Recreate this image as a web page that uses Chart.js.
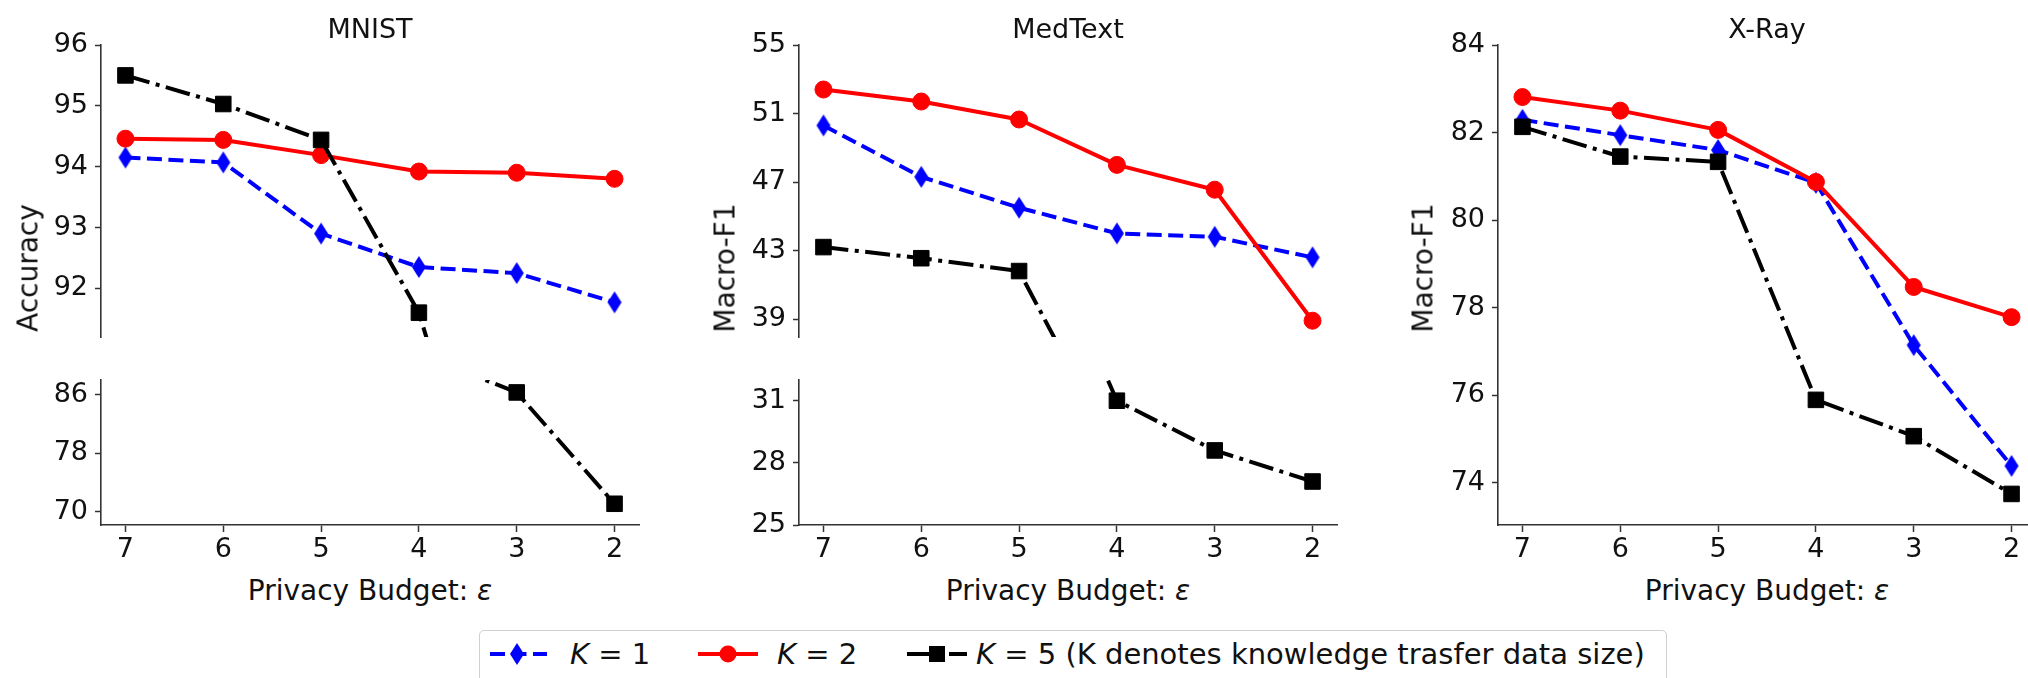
<!DOCTYPE html>
<html>
<head>
<meta charset="utf-8">
<script src="https://cdn.jsdelivr.net/npm/chart.js@4.4.1/dist/chart.umd.min.js"></script>
<style>
  html, body { margin: 0; padding: 0; background: #fff; }
  #fig { position: relative; width: 2028px; height: 678px; overflow: hidden;
         font-family: "DejaVu Sans", sans-serif; color: #111; }
  #fig canvas { position: absolute; }
  .txt { position: absolute; white-space: nowrap; transform: translate(-50%, -50%); }
  .title { font-size: 27px; }
  .xlab { font-size: 28px; }
  .ylab { font-size: 28px; transform: translate(-50%, -50%) rotate(-90deg); }
  #legend { position: absolute; left: 479px; top: 630px; width: 1188px; height: 70px;
            border: 1.5px solid #d0d0d0; border-radius: 5px; box-sizing: border-box; }
  .lg { position: absolute; top: 23px; font-size: 29px; white-space: nowrap; transform: translateY(-50%); }
  .lg svg { position: absolute; top: -13px; }
</style>
</head>
<body>
<div id="fig"></div>
<script>
// privacy budget epsilon (x axis)
const budgets = [7, 6, 5, 4, 3, 2];

// MNIST accuracy
const mnistK1 = [94.15, 94.07, 92.9, 92.35, 92.25, 91.77];
const mnistK2 = [94.46, 94.44, 94.19, 93.92, 93.9, 93.8];
const mnistK5 = [95.5, 95.03, 94.44, 91.6, 86.3, 71.1];

// MedText macro-F1
const medK1 = [50.3, 47.3, 45.5, 44.0, 43.8, 42.6];
const medK2 = [52.4, 51.7, 50.65, 48.0, 46.55, 38.9];
const medK5 = [43.2, 42.55, 41.8, 31.0, 28.6, 27.1];

// X-Ray macro-F1
const xrayK1 = [82.29, 81.94, 81.6, 80.85, 77.14, 74.38];
const xrayK2 = [82.81, 82.5, 82.06, 80.87, 78.47, 77.78];
const xrayK5 = [82.13, 81.45, 81.33, 75.89, 75.06, 73.74];

// y tick labels
const mnistTopTicks = [92, 93, 94, 95, 96];
const mnistLowTicks = [70, 78, 86];
const medTopTicks = [39, 43, 47, 51, 55];
const medLowTicks = [25, 28, 31];
const xrayTicks = [74, 76, 78, 80, 82, 84];

const seriesNames = ["K = 1", "K = 2", "K = 5 (K denotes knowledge trasfer data size)"];

const FONT = "DejaVu Sans";
const fig = document.getElementById("fig");
const YW = 80, PADT = 30, XH = 48, PADR = 12;

function thinDiamond(color, w, h) {
    const c = document.createElement("canvas");
    c.width = w + 2; c.height = h + 2;
    const g = c.getContext("2d");
    g.fillStyle = color;
    g.beginPath();
    g.moveTo(c.width / 2, 1);
    g.lineTo(w + 1, c.height / 2);
    g.lineTo(c.width / 2, h + 1);
    g.lineTo(1, c.height / 2);
    g.closePath();
    g.fill();
    return c;
}
const diamond = thinDiamond("#0000ff", 14, 22);

function series(vals, kind) {
    const base = {
        data: budgets.map((b, i) => ({ x: b, y: vals[i] })),
        fill: false, tension: 0, clip: 0, borderWidth: 4,
        borderJoinStyle: "round", pointBorderWidth: 1
    };
    if (kind === 1) return Object.assign(base, {
        borderColor: "#0000ff", backgroundColor: "#0000ff", borderDash: [15, 6.5],
        pointStyle: diamond, pointRadius: 11, order: 3
    });
    if (kind === 2) return Object.assign(base, {
        borderColor: "#ff0000", backgroundColor: "#ff0000",
        pointStyle: "circle", pointRadius: 8.5, order: 2
    });
    return Object.assign(base, {
        borderColor: "#000000", backgroundColor: "#000000", borderDash: [25, 6.5, 4, 6.5],
        pointStyle: "rect", pointRadius: 11, order: 1
    });
}

function makePlot(p) {
    const c = document.createElement("canvas");
    const w = YW + (p.right - p.left) + PADR;
    const h = PADT + (p.bottom - p.top) + (p.showX ? XH : PADT);
    c.width = w; c.height = h;
    c.style.left = (p.left - YW) + "px";
    c.style.top = (p.top - PADT) + "px";
    c.style.width = w + "px"; c.style.height = h + "px";
    fig.appendChild(c);

    const tickFont = { family: FONT, size: 27 };
    new Chart(c, {
        type: "line",
        data: { datasets: [series(p.vals[0], 1), series(p.vals[1], 2), series(p.vals[2], 5)] },
        options: {
            responsive: false,
            animation: false,
            devicePixelRatio: 1,
            layout: { padding: { top: PADT, right: PADR, bottom: p.showX ? 0 : PADT, left: 0 } },
            plugins: { legend: { display: false }, tooltip: { enabled: false } },
            scales: {
                x: {
                    type: "linear", min: 1.75, max: 7.25, reverse: true, display: p.showX,
                    afterBuildTicks: s => { s.ticks = budgets.map(v => ({ value: v })); },
                    afterFit: s => { if (p.showX) s.height = XH; },
                    grid: { drawOnChartArea: false, tickLength: 7, tickColor: "#333", tickWidth: 1.5 },
                    border: { color: "#333", width: 1.6 },
                    ticks: { font: tickFont, color: "#111", padding: 2, maxRotation: 0 }
                },
                y: {
                    type: "linear", min: p.ymin, max: p.ymax,
                    afterBuildTicks: s => { s.ticks = p.ticks.map(v => ({ value: v })); },
                    afterFit: s => { s.width = YW; },
                    grid: { drawOnChartArea: false, tickLength: 6, tickColor: "#333", tickWidth: 1.5 },
                    border: { color: "#333", width: 1.6 },
                    ticks: { font: tickFont, color: "#111", padding: 7 }
                }
            }
        }
    });
}

function addText(cls, html, x, y) {
    const d = document.createElement("div");
    d.className = "txt " + cls;
    d.innerHTML = html;
    d.style.left = x + "px";
    d.style.top = y + "px";
    fig.appendChild(d);
}

// panels: spine x, right end of axes
const panels = [
    { name: "MNIST", ylab: "Accuracy", left: 101, right: 639, ylabX: 28 },
    { name: "MedText", ylab: "Macro-F1", left: 799, right: 1337, ylabX: 725 },
    { name: "X-Ray", ylab: "Macro-F1", left: 1498, right: 2036, ylabX: 1423 }
];

// MNIST (broken axis)
makePlot({ left: 101, right: 639, top: 45, bottom: 337, ymin: 91.2, ymax: 96, ticks: mnistTopTicks,
           showX: false, vals: [mnistK1, mnistK2, mnistK5] });
makePlot({ left: 101, right: 639, top: 380, bottom: 525, ymin: 68.2, ymax: 88, ticks: mnistLowTicks,
           showX: true, vals: [mnistK1, mnistK2, mnistK5] });
// MedText (broken axis)
makePlot({ left: 799, right: 1337, top: 45, bottom: 337, ymin: 37.95, ymax: 55, ticks: medTopTicks,
           showX: false, vals: [medK1, medK2, medK5] });
makePlot({ left: 799, right: 1337, top: 380, bottom: 525, ymin: 25, ymax: 32, ticks: medLowTicks,
           showX: true, vals: [medK1, medK2, medK5] });
// X-Ray
makePlot({ left: 1498, right: 2036, top: 45, bottom: 525, ymin: 73.03, ymax: 84, ticks: xrayTicks,
           showX: true, vals: [xrayK1, xrayK2, xrayK5] });

panels.forEach(p => {
    const cx = (p.left + p.right) / 2;
    addText("title", p.name, cx, 28);
    addText("xlab", "Privacy Budget: <i>ε</i>", cx, 590);
    addText("ylab", p.ylab, p.ylabX, 268);
});

// legend
const lg = document.createElement("div");
lg.id = "legend";
const k = s => "<i>" + s[0] + "</i>" + s.slice(1);
lg.innerHTML =
    '<div class="lg" style="left:7px"><svg width="60" height="26">' +
    '<line x1="0" y1="13" x2="60" y2="13" stroke="#0000ff" stroke-width="4" stroke-dasharray="15 6.5" stroke-dashoffset="-3"/>' +
    '<polygon points="30,2 37,13 30,24 23,13" fill="#0000ff"/></svg></div>' +
    '<div class="lg" style="left:90px">' + k(seriesNames[0]) + '</div>' +
    '<div class="lg" style="left:218px"><svg width="60" height="26">' +
    '<line x1="0" y1="13" x2="60" y2="13" stroke="#ff0000" stroke-width="4"/>' +
    '<circle cx="30" cy="13" r="8.5" fill="#ff0000"/></svg></div>' +
    '<div class="lg" style="left:297px">' + k(seriesNames[1]) + '</div>' +
    '<div class="lg" style="left:427px"><svg width="60" height="26">' +
    '<line x1="0" y1="13" x2="60" y2="13" stroke="#000" stroke-width="4" stroke-dasharray="25 6.5 4 6.5"/>' +
    '<rect x="22" y="5" width="16" height="16" fill="#000"/></svg></div>' +
    '<div class="lg" style="left:496px">' + k(seriesNames[2]) + '</div>';
fig.appendChild(lg);
</script>
</body>
</html>
